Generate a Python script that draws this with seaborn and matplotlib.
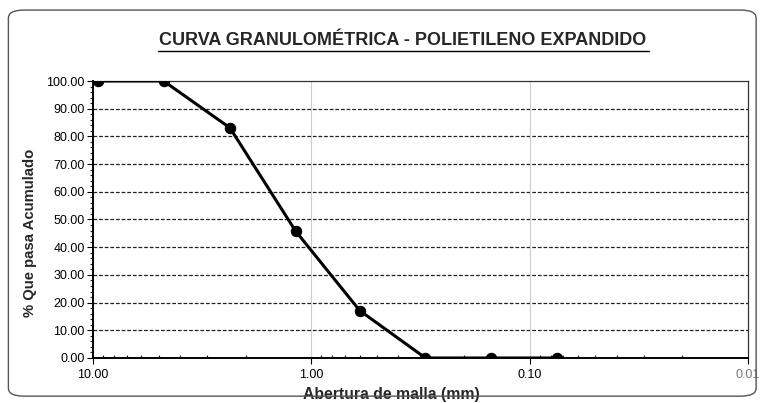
import matplotlib
matplotlib.use("Agg")
import matplotlib.pyplot as plt
from matplotlib.patches import FancyBboxPatch
from matplotlib.ticker import FixedLocator, MultipleLocator, LogLocator, NullFormatter, FuncFormatter
import seaborn as sns
import pandas as pd

# Sieve openings (mm) and cumulative percent passing
abertura = [9.5, 4.75, 2.36, 1.18, 0.6, 0.3, 0.15, 0.075]
pasa = [100.0, 100.0, 83.1, 45.8, 17.1, 0.0, 0.0, 0.0]
x_ticks = [10, 1, 0.1, 0.01]
x_tick_labels = ["10.00", "1.00", "0.10", "0.01"]

sns.set_theme(style="white")
plt.rcParams["font.family"] = ["Liberation Sans", "DejaVu Sans"]

df = pd.DataFrame({"abertura": abertura, "pasa": pasa})

fig = plt.figure(figsize=(7.63, 4.03), dpi=100)
ax = fig.add_axes([0.1219, 0.1117, 0.8584, 0.6873])

# rounded outer frame
frame = FancyBboxPatch((0.011, 0.017), 0.98, 0.958,
                       boxstyle="round,pad=0,rounding_size=0.02",
                       transform=fig.transFigure, fill=False,
                       edgecolor="#555555", linewidth=1.0, zorder=0)
fig.patches.append(frame)

sns.lineplot(data=df, x="abertura", y="pasa", ax=ax, color="black",
             linewidth=2.2, marker="o", markersize=7.5, markeredgecolor="black",
             estimator=None, sort=False, zorder=5)

ax.set_xscale("log")
ax.set_xlim(10, 0.01)
ax.set_ylim(0, 100)

ax.xaxis.set_major_locator(FixedLocator(x_ticks))
ax.set_xticklabels(x_tick_labels)
ax.xaxis.set_minor_locator(LogLocator(base=10, subs=range(2, 10)))
ax.xaxis.set_minor_formatter(NullFormatter())
ax.yaxis.set_major_locator(MultipleLocator(10))
ax.yaxis.set_minor_locator(MultipleLocator(2))
ax.yaxis.set_major_formatter(FuncFormatter(lambda v, p: f"{v:.2f}"))

ax.tick_params(axis="both", which="major", labelsize=9, colors="black",
               length=4, width=0.8, direction="out", pad=2)
ax.tick_params(axis="x", which="major", pad=4)
ax.tick_params(axis="x", which="minor", length=2.5, width=0.8, direction="in")
ax.tick_params(axis="y", which="minor", length=2.5, width=0.8, direction="out")
ax.tick_params(axis="y", which="both", left=True)
ax.tick_params(axis="x", which="both", bottom=True)
ax.get_xticklabels()[-1].set_color("#777777")

# dashed horizontal grid, faint vertical decades
for v in range(10, 100, 10):
    ax.axhline(v, color="#222222", linestyle=(0, (3, 1.5)), linewidth=0.9, zorder=1)
for v in [1, 0.1]:
    ax.axvline(v, color="#cccccc", linestyle="-", linewidth=0.8, zorder=1)

for side in ["left", "bottom"]:
    ax.spines[side].set_color("black")
    ax.spines[side].set_linewidth(1.4)
for side in ["top", "right"]:
    ax.spines[side].set_color("#333333")
    ax.spines[side].set_linewidth(0.9)

ax.set_xlabel("Abertura de malla (mm)", fontsize=11.3, fontweight="bold")
ax.xaxis.set_label_coords(0.455, -0.103)
ax.set_ylabel("% Que pasa Acumulado", fontsize=10.7, fontweight="bold")
ax.yaxis.set_label_coords(-0.086, 0.451)

fig.text(0.528, 0.9, "CURVA GRANULOMÉTRICA - POLIETILENO EXPANDIDO",
         ha="center", va="center", fontsize=13, fontweight="bold")
# underline the title
fig.add_artist(plt.Line2D([0.207, 0.851], [0.874, 0.874], color="black",
                          linewidth=1.0, transform=fig.transFigure))

fig.savefig("out.png", dpi=100)
